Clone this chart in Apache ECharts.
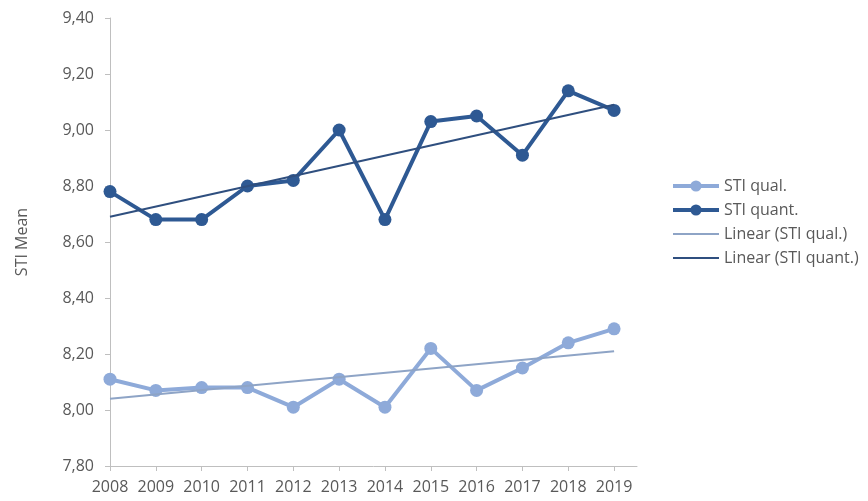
<!DOCTYPE html>
<html>
<head>
<meta charset="utf-8">
<script src="https://cdn.jsdelivr.net/npm/echarts@6/dist/echarts.min.js"></script>
<style>
  html, body { margin: 0; padding: 0; background: #ffffff; }
  #chart { width: 868px; height: 501px; }
</style>
</head>
<body>
<div id="chart"></div>
<script>
// Survey years
const years = [2008, 2009, 2010, 2011, 2012, 2013, 2014, 2015, 2016, 2017, 2018, 2019];

// Yearly STI means
const stiQual  = [8.11, 8.07, 8.08, 8.08, 8.01, 8.11, 8.01, 8.22, 8.07, 8.15, 8.24, 8.29];
const stiQuant = [8.78, 8.68, 8.68, 8.80, 8.82, 9.00, 8.68, 9.03, 9.05, 8.91, 9.14, 9.07];

// Linear trend values at the first and last year
const trendYears = [2008, 2019];
const trendQual  = [8.04, 8.21];
const trendQuant = [8.69, 9.09];

// Series names
const seriesNames = ['STI qual.', 'STI quant.', 'Linear (STI qual.)', 'Linear (STI quant.)'];

const FONT = '"Open Sans", sans-serif';
const TEXT = '#595959';
const AXIS = '#bfbfbf';

const QUAL = '#8eaad9';
const QUANT = '#2e5993';
const QUAL_TREND = '#8ea4c6';
const QUANT_TREND = '#2f4f7f';

const pairs = (xs, ys) => xs.map((x, i) => [x, ys[i]]);

const chart = echarts.init(document.getElementById('chart'), null, { renderer: 'canvas' });

chart.setOption({
  animation: false,
  backgroundColor: '#ffffff',
  textStyle: { fontFamily: FONT },
  grid: { left: 110, top: 18, width: 527, height: 448, containLabel: false },
  legend: {
    orient: 'vertical',
    left: 666,
    top: 173,
    itemWidth: 46,
    itemHeight: 14,
    itemGap: 8,
    textStyle: { fontFamily: FONT, fontSize: 16, color: TEXT },
    data: [
      { name: seriesNames[0], lineStyle: { width: 4 } },
      { name: seriesNames[1], lineStyle: { width: 4 } },
      { name: seriesNames[2], lineStyle: { width: 2 }, itemStyle: { opacity: 0 } },
      { name: seriesNames[3], lineStyle: { width: 2 }, itemStyle: { opacity: 0 } }
    ]
  },
  xAxis: {
    type: 'value',
    min: 2008,
    max: 2019.5,
    splitLine: { show: false },
    axisLine: { show: true, lineStyle: { color: AXIS, width: 1 } },
    axisTick: { show: true, length: 5, lineStyle: { color: AXIS }, customValues: years },
    axisLabel: {
      customValues: years,
      formatter: v => String(v),
      color: TEXT,
      fontFamily: FONT,
      fontSize: 16,
      margin: 13
    }
  },
  yAxis: {
    type: 'value',
    min: 7.8,
    max: 9.4,
    interval: 0.2,
    name: 'STI Mean',
    nameLocation: 'middle',
    nameRotate: 90,
    nameGap: 80,
    nameTextStyle: { color: TEXT, fontFamily: FONT, fontSize: 16 },
    splitLine: { show: false },
    axisLine: { show: true, lineStyle: { color: AXIS, width: 1 } },
    axisTick: { show: true, length: 5, lineStyle: { color: AXIS } },
    axisLabel: {
      formatter: v => v.toFixed(2).replace('.', ','),
      color: TEXT,
      fontFamily: FONT,
      fontSize: 16,
      margin: 16
    }
  },
  series: [
    {
      name: seriesNames[0],
      type: 'line',
      data: pairs(years, stiQual),
      symbol: 'circle',
      symbolSize: 13,
      color: QUAL,
      lineStyle: { width: 4, color: QUAL },
      itemStyle: { color: QUAL },
      z: 2
    },
    {
      name: seriesNames[1],
      type: 'line',
      data: pairs(years, stiQuant),
      symbol: 'circle',
      symbolSize: 13,
      color: QUANT,
      lineStyle: { width: 4, color: QUANT },
      itemStyle: { color: QUANT },
      z: 2
    },
    {
      name: seriesNames[2],
      type: 'line',
      data: pairs(trendYears, trendQual),
      symbol: 'none',
      color: QUAL_TREND,
      lineStyle: { width: 2, color: QUAL_TREND },
      z: 3
    },
    {
      name: seriesNames[3],
      type: 'line',
      data: pairs(trendYears, trendQuant),
      symbol: 'none',
      color: QUANT_TREND,
      lineStyle: { width: 2, color: QUANT_TREND },
      z: 3
    }
  ]
});
</script>
</body>
</html>
